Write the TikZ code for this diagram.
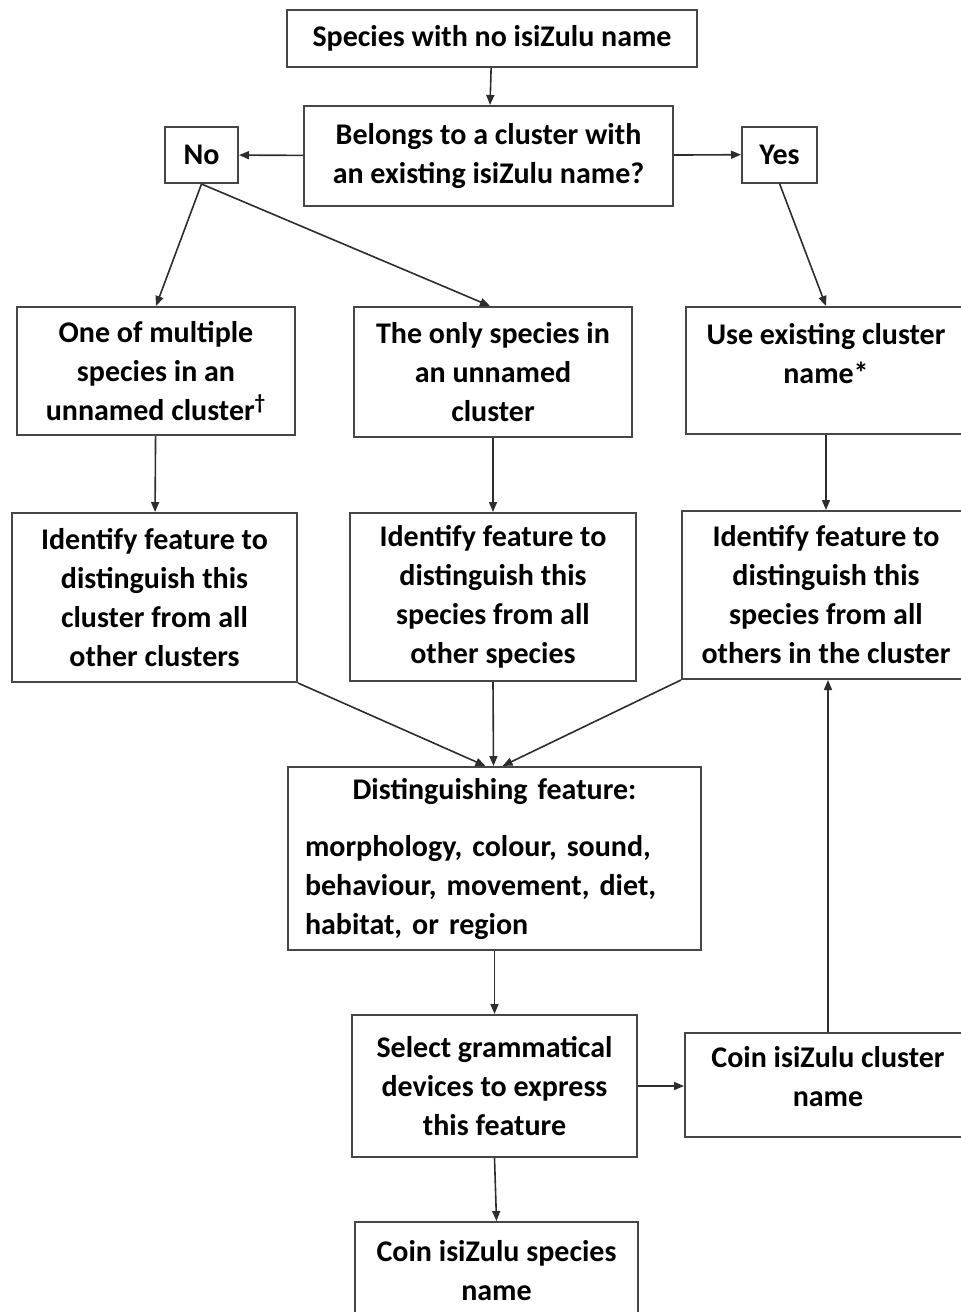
\documentclass[tikz,border=0pt]{standalone}
\usepackage{fontspec}
\setmainfont{Carlito}
\usepackage{tikz}
\usetikzlibrary{arrows.meta, positioning, calc}
\definecolor{cLine}{RGB}{70,70,70}
\definecolor{cArrow}{RGB}{45,45,45}
\newcommand{\boxfont}{\fontsize{15}{19.5}\selectfont\bfseries\frenchspacing}
\tikzset{
  basebox/.style={rectangle, draw=cLine, line width=1pt, fill=white,
                  align=center, font=\boxfont, inner sep=0pt},
  answerbox/.style={basebox, minimum height=28pt},
  arrow/.style={-{Triangle[length=5pt, width=4pt]}, line width=0.8pt, color=cArrow}
}

\begin{document}
\begin{tikzpicture}[x=0.5pt, y=-0.5pt]
  \useasboundingbox (0,0) rectangle (960,1312);

  \node[basebox, minimum width=205pt, minimum height=28.5pt] (start) at (492,38.5)
    {Species with no isiZulu name};
  \node[basebox, minimum width=184.5pt, minimum height=50pt] (belongs) at (488.5,156)
    {Belongs to a cluster with\\an existing isiZulu name?};
  \node[answerbox, minimum width=36.5pt] (no) at (201.5,155) {No};
  \node[answerbox, minimum width=37.5pt] (yes) at (779.5,154.5) {Yes};

  \node[basebox, minimum width=139pt, minimum height=64pt] (multiple) at (156,371)
    {One of multiple\\species in an\\unnamed cluster\textsuperscript{\textdagger}};
  \node[basebox, minimum width=139pt, minimum height=65pt] (only) at (493,372)
    {The only species in\\an unnamed\\cluster};
  \node[basebox, minimum width=140pt, minimum height=63.5pt] (existing) at (826,370.5)
    {Use existing cluster\\name*\\[-8pt]\strut};

  \node[basebox, minimum width=142.5pt, minimum height=84.5pt] (idcluster) at (154.5,597.5)
    {Identify feature to\\distinguish this\\cluster from all\\other clusters};
  \node[basebox, minimum width=143pt, minimum height=84pt] (idspecies) at (493,597)
    {Identify feature to\\distinguish this\\species from all\\other species};
  \node[basebox, minimum width=144pt, minimum height=84pt] (idothers) at (826,595)
    {Identify feature to\\distinguish this\\species from all\\others in the cluster};

  \node[basebox, minimum width=206.5pt, minimum height=91.5pt, align=left,
        text width=189.5pt] (feature) at (494.5,858.5)
    {\makebox[189.5pt]{Distinguishing feature:}\\[9pt]
     morphology, colour, sound,\\behaviour, movement, diet,\\habitat, or region};

  \node[basebox, minimum width=142.5pt, minimum height=71pt] (devices) at (494.5,1086)
    {Select grammatical\\devices to express\\this feature};
  \node[basebox, minimum width=143pt, minimum height=52pt] (coincluster) at (828,1085)
    {Coin isiZulu cluster\\name\\[-10.5pt]\mbox{}};
  \node[basebox, minimum width=141.5pt, inner ysep=9pt, anchor=north] (coinspecies) at (496.5,1221)
    {Coin isiZulu species\\name\\\strut};

  \draw[arrow] (start) -- (belongs);
  \draw[arrow] (belongs) -- (no);
  \draw[arrow] (belongs) -- (yes);
  \draw[arrow] (no.south) -- (multiple.north);
  \draw[arrow] (no.south) -- ([xshift=-1.5pt]only.north);
  \draw[arrow] (yes.south) -- (existing.north);
  \draw[arrow] (multiple) -- (idcluster);
  \draw[arrow] (only) -- (idspecies);
  \draw[arrow] (existing) -- (idothers);
  \draw[arrow] (idcluster.south east) -- ([xshift=-4.5pt]feature.north);
  \draw[arrow] (idspecies.south) -- ([xshift=-0.5pt]feature.north);
  \draw[arrow] (idothers.south west) -- ([xshift=4pt]feature.north);
  \draw[arrow] (feature.south) -- (devices.north);
  \draw[arrow] (devices.east) -- (coincluster.west |- devices.east);
  \draw[arrow] (coincluster.north) -- (coincluster.north |- idothers.south);
  \draw[arrow] (devices.south) -- (coinspecies.north);
\end{tikzpicture}
\end{document}
